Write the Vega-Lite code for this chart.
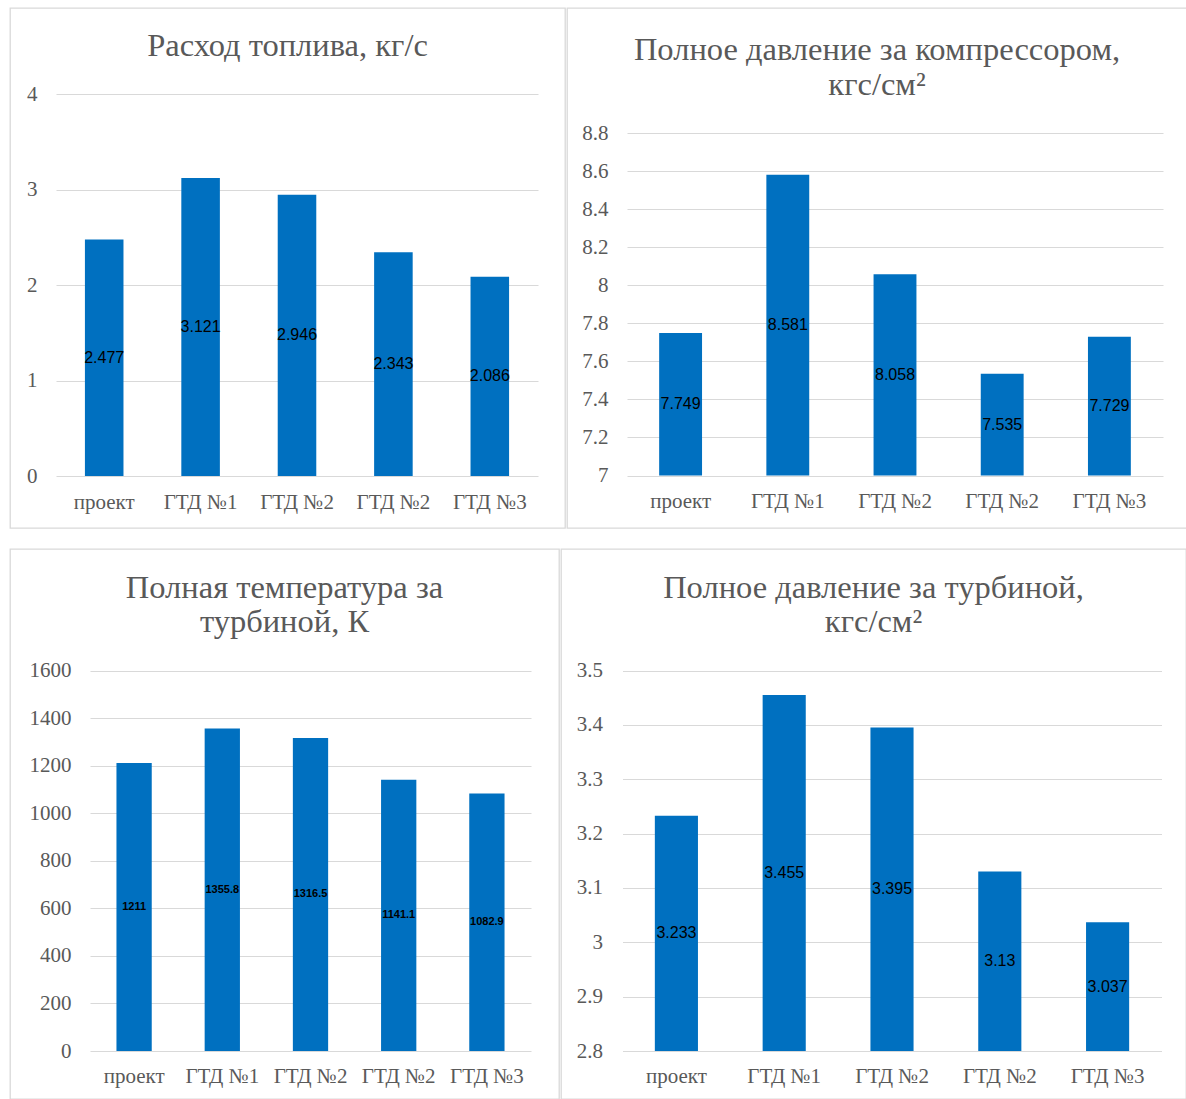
{
  "$schema": "https://vega.github.io/schema/vega-lite/v6.json",
  "padding": {"left": 9, "top": 7, "right": 0, "bottom": 0},
  "background": "white",
  "config": {
    "view": {"stroke": "#D9D9D9", "strokeWidth": 1.3},
    "axis": {"domain": false, "ticks": false, "tickSize": 0, "labelFont": "Liberation Serif", "labelFontSize": 21, "labelColor": "#595959", "gridColor": "#D9D9D9", "gridWidth": 1.2},
    "title": {"font": "Liberation Serif", "fontSize": 32.5, "color": "#595959", "fontWeight": "normal", "anchor": "middle", "frame": "group", "baseline": "alphabetic", "lineHeight": 34.5}
  },
  "datasets": {
    "fuel": [
      {"n": 1, "v": 2.477}, {"n": 2, "v": 3.121}, {"n": 3, "v": 2.946}, {"n": 4, "v": 2.343}, {"n": 5, "v": 2.086}
    ],
    "pcomp": [
      {"n": 1, "v": 7.749}, {"n": 2, "v": 8.581}, {"n": 3, "v": 8.058}, {"n": 4, "v": 7.535}, {"n": 5, "v": 7.729}
    ],
    "tturb": [
      {"n": 1, "v": 1211}, {"n": 2, "v": 1355.8}, {"n": 3, "v": 1316.5}, {"n": 4, "v": 1141.1}, {"n": 5, "v": 1082.9}
    ],
    "pturb": [
      {"n": 1, "v": 3.233}, {"n": 2, "v": 3.455}, {"n": 3, "v": 3.395}, {"n": 4, "v": 3.13}, {"n": 5, "v": 3.037}
    ]
  },
  "spacing": 19,
  "vconcat": [
    {
      "spacing": 0,
      "hconcat": [
        {
          "width": 555, "height": 520,
          "data": {"name": "fuel"},
          "title": {"text": "Расход топлива, кг/с", "offset": -54},
          "resolve": {"scale": {"y": "independent"}},
          "layer": [
            {
              "mark": {"type": "bar", "color": "#0070C0"},
              "encoding": {
                "x": {"field": "n", "type": "ordinal", "title": null,
                  "scale": {"range": [46, 528], "paddingInner": 0.6, "paddingOuter": 0.3},
                  "axis": {"labelExpr": "['проект','ГТД №1','ГТД №2','ГТД №2','ГТД №3'][datum.value-1]", "labelAngle": 0, "offset": -52, "labelPadding": 26, "labelBaseline": "middle", "grid": false}},
                "y": {"field": "v", "type": "quantitative", "title": null,
                  "scale": {"domain": [0, 4], "range": [468, 86], "nice": false, "zero": false},
                  "axis": {"values": [0, 1, 2, 3, 4], "format": "~f", "offset": -46, "labelPadding": 19, "grid": true}},
                "y2": {"datum": 0}
              }
            },
            {
              "mark": {"type": "text", "font": "Liberation Sans", "fontSize": 16, "color": "#000000", "baseline": "middle", "align": "center"},
              "encoding": {
                "x": {"field": "n", "type": "ordinal"},
                "y": {"field": "v", "type": "quantitative", "scale": {"domain": [0, 8], "range": [468, 86], "nice": false, "zero": false}, "axis": null},
                "text": {"field": "v", "type": "quantitative", "format": "~f"}
              }
            }
          ]
        },
        {
          "width": 620, "height": 520,
          "data": {"name": "pcomp"},
          "title": {"text": ["Полное давление за компрессором,", "кгс/см²"], "offset": -93},
          "resolve": {"scale": {"y": "independent"}},
          "layer": [
            {
              "mark": {"type": "bar", "color": "#0070C0"},
              "encoding": {
                "x": {"field": "n", "type": "ordinal", "title": null,
                  "scale": {"range": [60, 596], "paddingInner": 0.6, "paddingOuter": 0.3},
                  "axis": {"labelExpr": "['проект','ГТД №1','ГТД №2','ГТД №2','ГТД №3'][datum.value-1]", "labelAngle": 0, "offset": -52.5, "labelPadding": 26, "labelBaseline": "middle", "grid": false}},
                "y": {"field": "v", "type": "quantitative", "title": null,
                  "scale": {"domain": [7, 8.8], "range": [467.5, 125], "nice": false, "zero": false},
                  "axis": {"values": [7, 7.2, 7.4, 7.6, 7.8, 8, 8.2, 8.4, 8.6, 8.8], "format": "~f", "offset": -60, "labelPadding": 19, "grid": true}},
                "y2": {"datum": 7}
              }
            },
            {
              "mark": {"type": "text", "font": "Liberation Sans", "fontSize": 16, "color": "#000000", "baseline": "middle", "align": "center"},
              "encoding": {
                "x": {"field": "n", "type": "ordinal"},
                "y": {"field": "v", "type": "quantitative", "scale": {"domain": [7, 10.6], "range": [467.5, 125], "nice": false, "zero": false}, "axis": null},
                "text": {"field": "v", "type": "quantitative", "format": "~f"}
              }
            }
          ]
        }
      ]
    },
    {
      "spacing": 0,
      "hconcat": [
        {
          "width": 549, "height": 550,
          "data": {"name": "tturb"},
          "title": {"text": ["Полная температура за", "турбиной, К"], "offset": -89.5},
          "resolve": {"scale": {"y": "independent"}},
          "layer": [
            {
              "mark": {"type": "bar", "color": "#0070C0"},
              "encoding": {
                "x": {"field": "n", "type": "ordinal", "title": null,
                  "scale": {"range": [80, 521], "paddingInner": 0.6, "paddingOuter": 0.3},
                  "axis": {"labelExpr": "['проект','ГТД №1','ГТД №2','ГТД №2','ГТД №3'][datum.value-1]", "labelAngle": 0, "offset": -48, "labelPadding": 25, "labelBaseline": "middle", "grid": false}},
                "y": {"field": "v", "type": "quantitative", "title": null,
                  "scale": {"domain": [0, 1600], "range": [502, 121.5], "nice": false, "zero": false},
                  "axis": {"values": [0, 200, 400, 600, 800, 1000, 1200, 1400, 1600], "format": "~f", "offset": -80, "labelPadding": 19, "grid": true}},
                "y2": {"datum": 0}
              }
            },
            {
              "mark": {"type": "text", "font": "Liberation Sans", "fontSize": 11, "fontWeight": "bold", "color": "#000000", "baseline": "middle", "align": "center"},
              "encoding": {
                "x": {"field": "n", "type": "ordinal"},
                "y": {"field": "v", "type": "quantitative", "scale": {"domain": [0, 3200], "range": [502, 121.5], "nice": false, "zero": false}, "axis": null},
                "text": {"field": "v", "type": "quantitative", "format": "~f"}
              }
            }
          ]
        },
        {
          "width": 625, "height": 550,
          "data": {"name": "pturb"},
          "title": {"text": ["Полное давление за турбиной,", "кгс/см²"], "offset": -89.5},
          "resolve": {"scale": {"y": "independent"}},
          "layer": [
            {
              "mark": {"type": "bar", "color": "#0070C0"},
              "encoding": {
                "x": {"field": "n", "type": "ordinal", "title": null,
                  "scale": {"range": [61.5, 600.5], "paddingInner": 0.6, "paddingOuter": 0.3},
                  "axis": {"labelExpr": "['проект','ГТД №1','ГТД №2','ГТД №2','ГТД №3'][datum.value-1]", "labelAngle": 0, "offset": -48, "labelPadding": 25, "labelBaseline": "middle", "grid": false}},
                "y": {"field": "v", "type": "quantitative", "title": null,
                  "scale": {"domain": [2.8, 3.5], "range": [502, 121.5], "nice": false, "zero": false},
                  "axis": {"values": [2.8, 2.9, 3, 3.1, 3.2, 3.3, 3.4, 3.5], "format": "~f", "offset": -61.5, "labelPadding": 20, "grid": true}},
                "y2": {"datum": 2.8}
              }
            },
            {
              "mark": {"type": "text", "font": "Liberation Sans", "fontSize": 16, "color": "#000000", "baseline": "middle", "align": "center"},
              "encoding": {
                "x": {"field": "n", "type": "ordinal"},
                "y": {"field": "v", "type": "quantitative", "scale": {"domain": [2.8, 4.2], "range": [502, 121.5], "nice": false, "zero": false}, "axis": null},
                "text": {"field": "v", "type": "quantitative", "format": "~f"}
              }
            }
          ]
        }
      ]
    }
  ]
}
